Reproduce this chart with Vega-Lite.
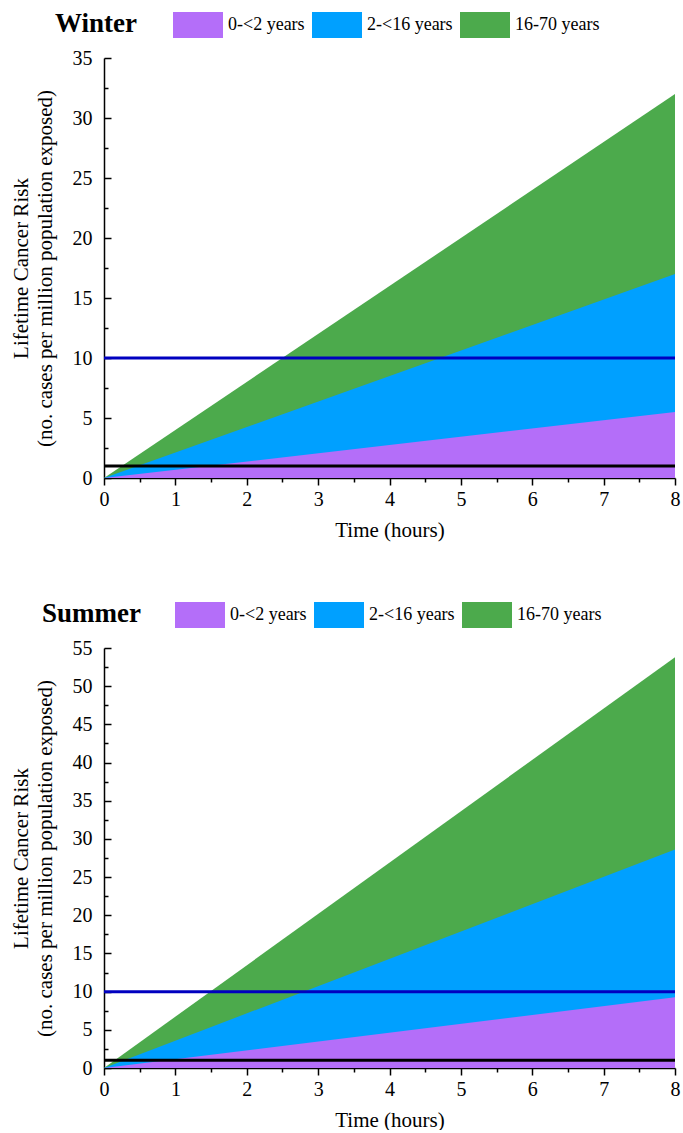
{
  "$schema": "https://vega.github.io/schema/vega-lite/v6.json",
  "background": "white",
  "padding": {"left": 10, "top": 0, "right": 2, "bottom": 0},
  "config": {
    "font": "Liberation Serif",
    "view": {"stroke": null},
    "axis": {
      "grid": false,
      "zindex": 1,
      "domainColor": "black",
      "domainWidth": 1.5,
      "tickColor": "black",
      "tickWidth": 1.5,
      "labelColor": "black",
      "titleColor": "black",
      "labelFont": "Liberation Serif",
      "titleFont": "Liberation Serif",
      "labelFontSize": 20,
      "titleFontWeight": "normal",
      "labelOverlap": false,
      "labelFlush": false
    },
    "legend": {
      "orient": "none",
      "direction": "horizontal",
      "legendY": -58,
      "symbolType": "M-1,-0.52H1V0.52H-1Z",
      "symbolSize": 2500,
      "symbolStrokeWidth": 0,
      "symbolOpacity": 1,
      "labelFont": "Liberation Serif",
      "labelFontSize": 18,
      "labelColor": "black",
      "labelOffset": 5,
      "columnPadding": 7,
      "title": null
    },
    "title": {"font": "Liberation Serif", "fontSize": 27, "fontWeight": "bold", "color": "black", "anchor": "start", "frame": "group", "offset": 0, "baseline": "middle", "dy": 42}
  },
  "datasets": {
    "winter": [
      {"hours": 0, "age": "16-70 years", "risk": 0},
      {"hours": 8, "age": "16-70 years", "risk": 32.0},
      {"hours": 0, "age": "2-<16 years", "risk": 0},
      {"hours": 8, "age": "2-<16 years", "risk": 17.0},
      {"hours": 0, "age": "0-<2 years", "risk": 0},
      {"hours": 8, "age": "0-<2 years", "risk": 5.5}
    ],
    "summer": [
      {"hours": 0, "age": "16-70 years", "risk": 0},
      {"hours": 8, "age": "16-70 years", "risk": 53.8},
      {"hours": 0, "age": "2-<16 years", "risk": 0},
      {"hours": 8, "age": "2-<16 years", "risk": 28.6},
      {"hours": 0, "age": "0-<2 years", "risk": 0},
      {"hours": 8, "age": "0-<2 years", "risk": 9.25}
    ],
    "limits": [
      {"threshold": 1},
      {"threshold": 10}
    ]
  },
  "spacing": 50,
  "resolve": {
    "scale": {"x": "independent", "y": "independent", "fill": "independent", "stroke": "independent"},
    "legend": {"fill": "independent"}
  },
  "vconcat": [
    {
      "width": 571,
      "height": 420,
      "title": {"text": "Winter", "dx": -49},
      "resolve": {"axis": {"x": "independent", "y": "independent"}},
      "layer": [
        {
          "data": {"name": "winter"},
          "transform": [{"filter": "datum.age === '16-70 years'"}],
          "mark": {"type": "area", "interpolate": "linear"},
          "encoding": {
            "x": {"field": "hours", "type": "quantitative", "title": "Time (hours)",
              "scale": {"domain": [0, 8], "nice": false},
              "axis": {"orient": "bottom", "values": [0, 1, 2, 3, 4, 5, 6, 7, 8], "format": "d",
                "tickSize": 7, "labelPadding": 4, "titleFontSize": 21, "titlePadding": 10}},
            "y": {"field": "risk", "type": "quantitative", "stack": null,
              "title": ["Lifetime Cancer Risk", "(no. cases per million population exposed)"],
              "scale": {"domain": [0, 35], "nice": false},
              "axis": {"orient": "left", "values": [0, 5, 10, 15, 20, 25, 30, 35], "format": "d",
                "tickSize": -7, "labelPadding": 19, "titleFontSize": 21, "titleLineHeight": 24, "titlePadding": 17}},
            "fill": {"field": "age", "type": "nominal",
              "scale": {"domain": ["0-<2 years", "2-<16 years", "16-70 years"], "range": ["#b46ef9", "#00a0ff", "#4caa4c"]},
              "legend": {"legendX": 69}}
          }
        },
        {
          "data": {"name": "winter"},
          "transform": [{"filter": "datum.age === '2-<16 years'"}],
          "mark": {"type": "area", "interpolate": "linear"},
          "encoding": {
            "x": {"field": "hours", "type": "quantitative",
              "axis": {"orient": "bottom", "values": [0.5, 1.5, 2.5, 3.5, 4.5, 5.5, 6.5, 7.5],
                "labels": false, "domain": false, "tickSize": 4, "title": null}},
            "y": {"field": "risk", "type": "quantitative", "stack": null,
              "axis": {"orient": "left", "values": [2.5, 7.5, 12.5, 17.5, 22.5, 27.5, 32.5],
                "labels": false, "domain": false, "tickSize": -4, "title": null}},
            "fill": {"field": "age", "type": "nominal"}
          }
        },
        {
          "data": {"name": "winter"},
          "transform": [{"filter": "datum.age === '0-<2 years'"}],
          "mark": {"type": "area", "interpolate": "linear"},
          "encoding": {
            "x": {"field": "hours", "type": "quantitative", "axis": null},
            "y": {"field": "risk", "type": "quantitative", "stack": null, "axis": null},
            "fill": {"field": "age", "type": "nominal"}
          }
        },
        {
          "data": {"name": "limits"},
          "mark": {"type": "rule", "strokeWidth": 3},
          "encoding": {
            "y": {"field": "threshold", "type": "quantitative", "axis": null},
            "stroke": {"field": "threshold", "type": "nominal",
              "scale": {"domain": [1, 10], "range": ["#000000", "#0000c0"]}, "legend": null}
          }
        }
      ]
    },
    {
      "width": 571,
      "height": 420,
      "title": {"text": "Summer", "dx": -62},
      "resolve": {"axis": {"x": "independent", "y": "independent"}},
      "layer": [
        {
          "data": {"name": "summer"},
          "transform": [{"filter": "datum.age === '16-70 years'"}],
          "mark": {"type": "area", "interpolate": "linear"},
          "encoding": {
            "x": {"field": "hours", "type": "quantitative", "title": "Time (hours)",
              "scale": {"domain": [0, 8], "nice": false},
              "axis": {"orient": "bottom", "values": [0, 1, 2, 3, 4, 5, 6, 7, 8], "format": "d",
                "tickSize": 7, "labelPadding": 4, "titleFontSize": 21, "titlePadding": 10}},
            "y": {"field": "risk", "type": "quantitative", "stack": null,
              "title": ["Lifetime Cancer Risk", "(no. cases per million population exposed)"],
              "scale": {"domain": [0, 55], "nice": false},
              "axis": {"orient": "left", "values": [0, 5, 10, 15, 20, 25, 30, 35, 40, 45, 50, 55], "format": "d",
                "tickSize": -7, "labelPadding": 19, "titleFontSize": 21, "titleLineHeight": 24, "titlePadding": 17}},
            "fill": {"field": "age", "type": "nominal",
              "scale": {"domain": ["0-<2 years", "2-<16 years", "16-70 years"], "range": ["#b46ef9", "#00a0ff", "#4caa4c"]},
              "legend": {"legendX": 71}}
          }
        },
        {
          "data": {"name": "summer"},
          "transform": [{"filter": "datum.age === '2-<16 years'"}],
          "mark": {"type": "area", "interpolate": "linear"},
          "encoding": {
            "x": {"field": "hours", "type": "quantitative",
              "axis": {"orient": "bottom", "values": [0.5, 1.5, 2.5, 3.5, 4.5, 5.5, 6.5, 7.5],
                "labels": false, "domain": false, "tickSize": 4, "title": null}},
            "y": {"field": "risk", "type": "quantitative", "stack": null,
              "axis": {"orient": "left", "values": [2.5, 7.5, 12.5, 17.5, 22.5, 27.5, 32.5, 37.5, 42.5, 47.5, 52.5],
                "labels": false, "domain": false, "tickSize": -4, "title": null}},
            "fill": {"field": "age", "type": "nominal"}
          }
        },
        {
          "data": {"name": "summer"},
          "transform": [{"filter": "datum.age === '0-<2 years'"}],
          "mark": {"type": "area", "interpolate": "linear"},
          "encoding": {
            "x": {"field": "hours", "type": "quantitative", "axis": null},
            "y": {"field": "risk", "type": "quantitative", "stack": null, "axis": null},
            "fill": {"field": "age", "type": "nominal"}
          }
        },
        {
          "data": {"name": "limits"},
          "mark": {"type": "rule", "strokeWidth": 3},
          "encoding": {
            "y": {"field": "threshold", "type": "quantitative", "axis": null},
            "stroke": {"field": "threshold", "type": "nominal",
              "scale": {"domain": [1, 10], "range": ["#000000", "#0000c0"]}, "legend": null}
          }
        }
      ]
    }
  ]
}
